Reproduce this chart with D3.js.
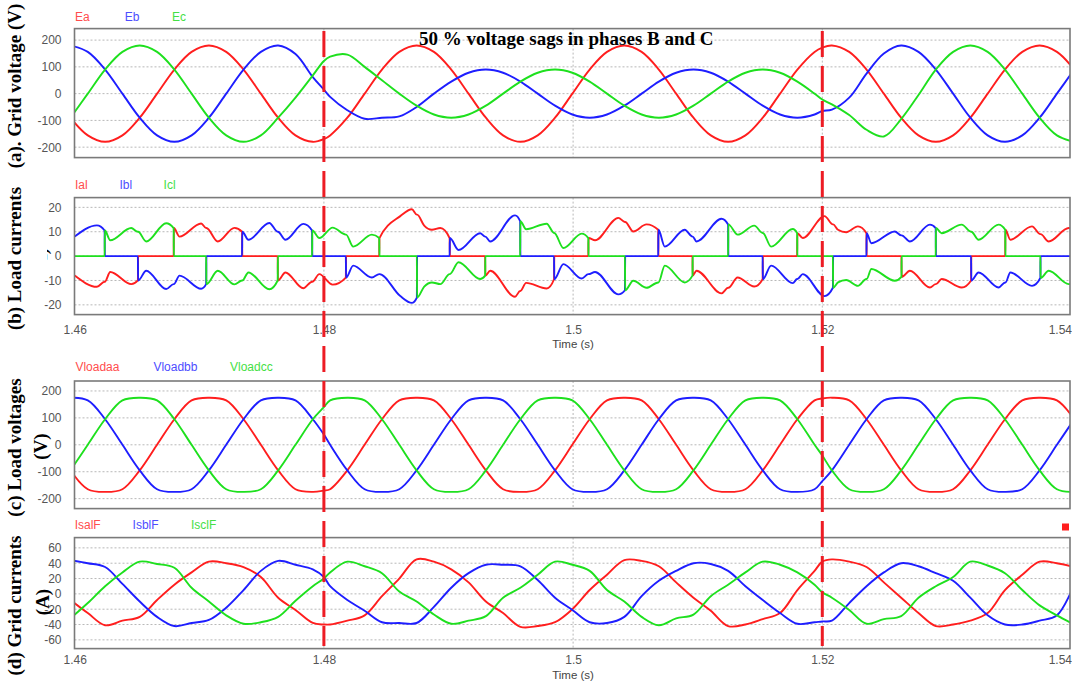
<!DOCTYPE html>
<html><head><meta charset="utf-8">
<script src="https://cdn.jsdelivr.net/npm/d3@7"></script>
<style>body{margin:0;background:#fff;} svg{display:block;}</style>
</head><body>
<svg id="chart" width="1072" height="681"></svg>
<script>
// ---------- DATA ----------
// shared sample times (s) for panels (a), (c), (d)
const time = [1.45966,1.46105,1.46244,1.46383,1.46522,1.46661,1.46800,1.46938,1.47077,1.47216,1.47355,1.47494,1.47633,1.47772,1.47911,
1.48000,
1.48050,1.48188,1.48327,1.48466,1.48605,1.48744,1.48883,1.49022,1.49161,1.49300,1.49438,1.49577,1.49716,1.49855,1.49994,1.50133,1.50272,1.50411,1.50550,1.50688,1.50827,1.50966,1.51105,1.51244,1.51383,1.51522,1.51661,1.51800,1.51938,
1.52000,
1.52077,1.52216,1.52355,1.52494,1.52633,1.52772,1.52911,1.53050,1.53188,1.53327,1.53466,1.53605,1.53744,1.53883,1.54022];

// (a) grid voltages (V)
const Ea = [-90,-156,-180,-156,-90,0,90,156,180,156,90,0,-90,-156,-180,
-170,
-156,-90,0,90,156,180,156,90,0,-90,-156,-180,-156,-90,0,90,156,180,156,90,0,-90,-156,-180,-156,-90,0,90,156,
172,
180,156,90,0,-90,-156,-180,-156,-90,0,90,156,180,156,90];
const Eb = [180,156,90,0,-90,-156,-180,-156,-90,0,90,156,180,148,62,
15,
-12,-62,-94,-90,-85,-50,0,45,78,90,78,45,0,-45,-78,-90,-78,-45,0,45,78,90,78,45,0,-45,-78,-90,-78,
-65,
-60,-15,75,150,180,156,90,0,-90,-156,-180,-156,-90,0,90];
const Ec = [-90,0,90,156,180,156,90,0,-90,-156,-180,-156,-90,-15,68,
122,
138,146,100,50,0,-45,-78,-90,-78,-45,0,45,78,90,78,45,0,-45,-78,-90,-78,-45,0,45,78,90,78,45,0,
-22,
-40,-80,-135,-160,-95,-5,90,156,180,156,90,0,-90,-156,-180];

// (c) load voltages (V)
const Vloadaa = [-95,-165,-175,-165,-95,0,95,165,175,165,95,0,-95,-165,-175,
-170,
-165,-95,0,95,165,175,165,95,0,-95,-165,-175,-165,-95,0,95,165,175,165,95,0,-95,-165,-175,-165,-95,0,95,165,
172,
175,165,95,0,-95,-165,-175,-165,-95,0,95,165,175,165,95];
const Vloadbb = [175,165,95,0,-95,-165,-175,-165,-95,0,95,165,175,165,95,
38,
0,-95,-165,-175,-165,-95,0,95,165,175,165,95,0,-95,-165,-175,-165,-95,0,95,165,175,165,95,0,-95,-165,-175,-165,
-135,
-95,0,95,165,175,165,95,0,-95,-165,-175,-165,-95,0,95];
const Vloadcc = [-95,0,95,165,175,165,95,0,-95,-165,-175,-165,-95,0,95,
140,
165,175,165,95,0,-95,-165,-175,-165,-95,0,95,165,175,165,95,0,-95,-165,-175,-165,-95,0,95,165,175,165,95,0,
-40,
-95,-165,-175,-165,-95,0,95,165,175,165,95,0,-95,-165,-175];

// (d) grid currents (A)
const IsalF = [-8,-25,-41,-35,-30,-8,12,28,42,40,35,22,-5,-21,-38,
-40,
-40,-35,-28,-3,20,45,42,32,15,-10,-25,-43,-42,-37,-20,5,25,44,43,36,15,-5,-22,-42,-40,-33,-25,5,30,
42,
45,42,35,15,-5,-25,-42,-40,-35,-25,5,25,42,40,35];
const IsblF = [44,40,35,13,-10,-30,-42,-38,-34,-18,5,30,43,38,32,
22,
10,-8,-22,-37,-38,-38,-17,8,27,38,38,36,18,-5,-21,-37,-38,-30,-3,17,30,40,39,30,10,-8,-25,-39,-37,
-36,
-35,-12,10,28,40,36,27,17,-5,-28,-40,-40,-35,-28,12];
const IsclF = [-32,-12,10,28,42,39,34,8,-10,-28,-39,-37,-30,-9,10,
20,
28,42,36,27,3,-10,-27,-39,-35,-29,-5,8,25,42,38,30,5,-10,-30,-41,-32,-27,-3,12,28,42,38,28,12,
2,
-5,-21,-39,-33,-29,-5,10,22,42,37,27,5,-15,-28,-40];

// (b) load currents: sample times (s), commutation instants appear twice
const loadTime = [1.46000,1.46178,1.46240,1.46242,1.46285,1.46454,1.46507,1.46509,1.46574,1.46734,
1.46794,1.46796,1.46841,1.47015,1.47055,1.47057,1.47148,1.47282,1.47343,1.47345,
1.47394,1.47562,1.47629,1.47631,1.47691,1.47835,1.47905,1.47907,1.47963,1.48070,
1.48176,1.48178,1.48235,1.48385,1.48444,1.48446,1.48613,1.48706,1.48746,1.48748,
1.48805,1.48867,1.48934,1.49009,1.49011,1.49080,1.49254,1.49294,1.49296,1.49334,
1.49534,1.49575,1.49577,1.49623,1.49788,1.49847,1.49849,1.49922,1.50069,1.50122,
1.50124,1.50176,1.50363,1.50416,1.50418,1.50483,1.50589,1.50683,1.50685,1.50736,
1.50896,1.50958,1.50960,1.50990,1.51191,1.51244,1.51246,1.51320,1.51454,1.51521,
1.51523,1.51589,1.51763,1.51798,1.51800,1.51843,1.52018,1.52085,1.52087,1.52126,
1.52192,1.52286,1.52354,1.52356,1.52394,1.52582,1.52635,1.52637,1.52703,1.52864,
1.52910,1.52912,1.52958,1.53119,1.53194,1.53196,1.53254,1.53415,1.53468,1.53470,
1.53509,1.53683,1.53750,1.53752,1.53817,1.53978,1.54016];
const Ial = [-8,-12.6,-10.5,-10.5,-6.5,-11.5,-10,0,0,0,
0,11.5,8,13.4,11.5,11.5,6,11.6,10,0,
0,0,0,-10,-6.7,-13.2,-10.5,-10.5,-7.4,-11.7,
-8.8,0,0,0,0,7.4,16.4,19.2,17,17,
12.5,10.8,11.5,7.4,0,0,0,0,-8,-6,
-16.7,-14.3,-14.3,-11,-13.3,-9.5,0,0,0,0,
7.4,6.5,15.7,14,14,10.1,13,10.8,0,0,
0,0,-8,-6,-15.3,-13,-13,-8.8,-12.5,-9.5,
0,0,0,0,9.4,7.4,16.4,13,13,10.8,
9.8,12.2,9.4,0,0,0,0,-8.5,-6,-12.9,
-11.5,-11.5,-9.4,-12.9,-10,0,0,0,0,10.8,
6.7,12.2,9,9,6,11.5,10.8];
const Ibl = [8,12.6,10.5,0,0,0,0,-10,-6,-13.5,
-11.5,-11.5,-8,-13.4,-11.5,0,0,0,0,10,
6.7,13.6,10,10,6.7,13.2,10.5,0,0,0,
0,-8.8,-3.9,-8.8,-7.4,-7.4,-16.4,-19.2,-17,0,
0,0,0,0,7.4,2.5,9.4,8,8,6,
16.7,14.3,0,0,0,0,-9.5,-3.3,-9.2,-7.4,
-7.4,-6.5,-15.7,-14,0,0,0,0,10.8,3.9,
10.8,8,8,6,15.3,13,0,0,0,0,
-9.5,-3.9,-11.1,-9.4,-9.4,-7.4,-16.4,-13,0,0,
0,0,0,9.4,5.3,10.1,8.5,8.5,6,12.9,
11.5,0,0,0,0,-10,-6.7,-12.9,-10.8,-10.8,
-6.7,-12.2,-9,0,0,0,0];
const Icl = [0,0,0,10.5,6.5,11.5,10,10,6,13.5,
11.5,0,0,0,0,-11.5,-6,-11.6,-10,-10,
-6.7,-13.6,-10,0,0,0,0,10.5,7.4,11.7,
8.8,8.8,3.9,8.8,7.4,0,0,0,0,-17,
-12.5,-10.8,-11.5,-7.4,-7.4,-2.5,-9.4,-8,0,0,
0,0,14.3,11,13.3,9.5,9.5,3.3,9.2,7.4,
0,0,0,0,-14,-10.1,-13,-10.8,-10.8,-3.9,
-10.8,-8,0,0,0,0,13,8.8,12.5,9.5,
9.5,3.9,11.1,9.4,0,0,0,0,-13,-10.8,
-9.8,-12.2,-9.4,-9.4,-5.3,-10.1,-8.5,0,0,0,
0,11.5,9.4,12.9,10,10,6.7,12.9,10.8,0,
0,0,0,-9,-6,-11.5,-10.8];

// axes / annotations
const xTicks = [1.46, 1.48, 1.5, 1.52, 1.54];
const xTickLabels = ["1.46", "1.48", "1.5", "1.52", "1.54"];
const voltTicks = [-200, -100, 0, 100, 200];
const loadCurrTicks = [-20, -10, 0, 10, 20];
const gridCurrTicks = [-60, -40, -20, 0, 20, 40, 60];
const sagTimes = [1.48, 1.52];
const sagTitle = "50 % voltage sags in phases B and C";

// ---------- DRAWING ----------
const svg = d3.select("#chart");
const frameL = 74.5, frameR = 1070;
const x = d3.scaleLinear().domain([1.46, 1.54]).range([74.7, 1071.5]);
const lineColors = ["#ff1e1e", "#1e1eff", "#1ee01e"];
const legendColors = ["#ff4d4d", "#4d4dff", "#45e045"];
const sans = "Arial, 'Liberation Sans', sans-serif";
const serif = "'Times New Roman', 'Liberation Serif', serif";

const panels = [
  {top: 28.6, bottom: 157.6, domain: [-239, 243], ticks: voltTicks, times: time, smooth: true,
   series: [Ea, Eb, Ec], names: ["Ea", "Eb", "Ec"], legendX: [75, 124.7, 172], legendY: 20.5, xAxis: null},
  {top: 197.6, bottom: 314.6, domain: [-24, 24], ticks: loadCurrTicks, times: loadTime, smooth: false,
   series: [Ial, Ibl, Icl], names: ["Ial", "Ibl", "Icl"], legendX: [75, 119.5, 163.6], legendY: 188.5,
   xAxis: {pad: 10.5, titleY: 347.5}},
  {top: 381, bottom: 508.6, domain: [-237, 237], ticks: voltTicks, times: time, smooth: true,
   series: [Vloadaa, Vloadbb, Vloadcc], names: ["Vloadaa", "Vloadbb", "Vloadcc"], legendX: [75.4, 153.4, 230], legendY: 370.5, xAxis: null},
  {top: 537.6, bottom: 648.6, domain: [-71.4, 73.4], ticks: gridCurrTicks, times: time, smooth: true,
   series: [IsalF, IsblF, IsclF], names: ["IsalF", "IsblF", "IsclF"], legendX: [74.7, 132.6, 191], legendY: 529,
   xAxis: {pad: 7, titleY: 678.5}}
];

const defs = svg.append("defs");
panels.forEach((p, i) => {
  const y = d3.scaleLinear().domain(p.domain).range([p.bottom, p.top]);
  const g = svg.append("g");
  defs.append("clipPath").attr("id", "clip" + i).append("rect")
    .attr("x", frameL).attr("y", p.top).attr("width", frameR - frameL).attr("height", p.bottom - p.top);

  // grid
  g.selectAll("line.hg").data(p.ticks).join("line").attr("class", "hg")
    .attr("x1", frameL).attr("x2", frameR).attr("y1", d => y(d)).attr("y2", d => y(d))
    .attr("stroke", "#b8b8b8").attr("stroke-width", 1).attr("stroke-dasharray", "2,2");
  g.selectAll("line.vg").data(xTicks.slice(1, -1)).join("line").attr("class", "vg")
    .attr("x1", d => x(d)).attr("x2", d => x(d)).attr("y1", p.top).attr("y2", p.bottom)
    .attr("stroke", "#b8b8b8").attr("stroke-width", 1).attr("stroke-dasharray", "2,2");

  // series
  const curve = p.smooth ? d3.curveCatmullRom.alpha(0.5) : d3.curveMonotoneX;
  const line = d3.line().x((d, j) => x(p.times[j])).y(d => y(d)).curve(curve);
  p.series.forEach((s, k) => {
    g.append("path").datum(s).attr("d", line).attr("clip-path", `url(#clip${i})`)
      .attr("fill", "none").attr("stroke", lineColors[k]).attr("stroke-width", 1.9)
      .attr("stroke-linejoin", "round");
  });

  // frame
  g.append("rect").attr("x", frameL).attr("y", p.top).attr("width", frameR - frameL).attr("height", p.bottom - p.top)
    .attr("fill", "none").attr("stroke", "#7a7a7a").attr("stroke-width", 1.6);

  // y axis
  const ya = d3.axisLeft(y).tickValues(p.ticks).tickSize(0).tickPadding(13).tickFormat(d => String(d));
  const yg = g.append("g").attr("transform", `translate(${frameL},0)`).call(ya);
  yg.select(".domain").remove();
  yg.selectAll("text").attr("font-size", 12).attr("font-family", sans).attr("fill", "#555");

  // x axis
  if (p.xAxis) {
    const xa = d3.axisBottom(x).tickValues(xTicks).tickSize(0).tickPadding(p.xAxis.pad)
      .tickFormat((d, j) => xTickLabels[j]);
    const xg = g.append("g").attr("transform", `translate(0,${p.bottom})`).call(xa);
    xg.select(".domain").remove();
    xg.selectAll("text").attr("font-size", 12).attr("font-family", sans).attr("fill", "#555")
      .attr("text-anchor", (d, j) => j === xTicks.length - 1 ? "end" : "middle");
    g.append("text").attr("x", x(1.5)).attr("y", p.xAxis.titleY).attr("text-anchor", "middle")
      .attr("font-size", 11.5).attr("font-family", sans).attr("fill", "#444").text("Time (s)");
  }

  // legend
  p.names.forEach((n, k) => {
    g.append("text").attr("x", p.legendX[k]).attr("y", p.legendY).attr("font-size", 12)
      .attr("font-family", sans).attr("fill", legendColors[k]).text(n);
  });
});

// rotated y titles
function vtext(txt, bx, cy, clipId) {
  const t = svg.append("text").attr("transform", `translate(${bx},${cy}) rotate(-90)`)
    .attr("text-anchor", "middle").attr("font-family", serif).attr("font-weight", "bold")
    .attr("font-size", 19).attr("fill", "#000").text(txt);
  if (clipId) t.attr("clip-path", `url(#${clipId})`);
  return t;
}
defs.append("clipPath").attr("id", "clipA").attr("clipPathUnits", "userSpaceOnUse")
  .append("rect").attr("x", 0).attr("y", 0).attr("width", 37.5).attr("height", 681);
vtext("(a). Grid voltage (V)", 21, 86);
vtext("(b) Load currents", 21, 258.5);
vtext("(A)", 47, 261, "clipA");
vtext("(c) Load voltages", 21, 447.5);
vtext("(V)", 47, 446.5);
vtext("(d) Grid currents", 21, 605.5);
vtext("(A)", 49, 602);

// title
svg.append("text").attr("x", 419).attr("y", 44.5).attr("font-family", serif).attr("font-weight", "bold")
  .attr("font-size", 19).attr("fill", "#000").text(sagTitle);

// small red marker (top right of panel d)
svg.append("rect").attr("x", 1062).attr("y", 523.5).attr("width", 7).attr("height", 7).attr("fill", "#ff1e1e");

// red dashed lines marking the sag start and end
svg.selectAll("line.sag").data(sagTimes).join("line").attr("class", "sag")
  .attr("x1", d => x(d)).attr("x2", d => x(d)).attr("y1", 31).attr("y2", 646)
  .attr("stroke", "#ed1c24").attr("stroke-width", 3).attr("stroke-dasharray", "26,9");
</script>
</body></html>
